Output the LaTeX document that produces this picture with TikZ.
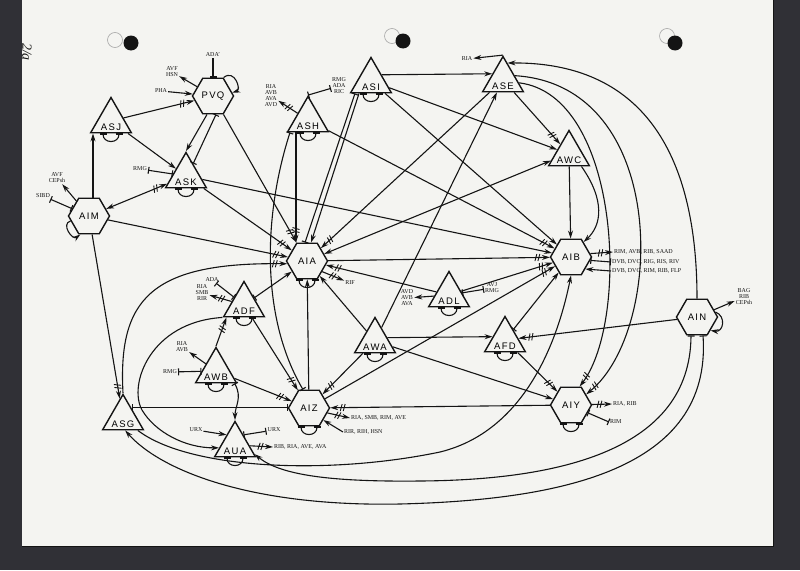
\documentclass[tikz,border=0pt]{standalone}
\usepackage{fontspec}
\setmainfont{Liberation Serif}
\newfontfamily\cellfont[LetterSpace=14]{Liberation Sans}
\usetikzlibrary{shapes.geometric,arrows.meta,decorations.markings}

\definecolor{paper}{RGB}{244,244,241}
\definecolor{board}{RGB}{48,48,54}
\definecolor{ink}{RGB}{20,20,20}

\tikzset{
	hexa/.style={draw=ink, fill=paper, line width=1.4pt, regular polygon, regular polygon sides=6,
		minimum size=41pt, inner sep=0pt, font=\cellfont\fontsize{9.5}{10}\selectfont},
	tri/.style={draw=ink, fill=paper, line width=1.4pt, regular polygon, regular polygon sides=3,
		minimum size=47pt, inner sep=0pt, label={[nm]south:#1}},
	nm/.style={anchor=south, inner sep=2.6pt, font=\cellfont\fontsize{9.5}{10}\selectfont},
	tag/.style={font=\fontsize{6}{6}\selectfont, align=center, inner sep=1pt, text=ink},
	syn/.style={draw=ink, line width=1.1pt, -{Stealth[length=8pt,width=5pt]}},
	dsyn/.style={syn, {Stealth[length=8pt,width=5pt]}-{Stealth[length=8pt,width=5pt]}},
	msyn/.style={syn, postaction={decorate}, decoration={markings,
		mark=at position -11pt with {\draw[-, line width=0.9pt] (-1pt,-3.5pt) -- (1pt,3.5pt);},
		mark=at position -14pt with {\draw[-, line width=0.9pt] (-1pt,-3.5pt) -- (1pt,3.5pt);}}},
	bsyn/.style={msyn, {Stealth[length=8pt,width=5pt]}-{Stealth[length=8pt,width=5pt]}},
	gap/.style={draw=ink, line width=1.1pt, {Bar[width=7pt]}-{Bar[width=7pt]}},
	inh/.style={draw=ink, line width=1.1pt, -{Bar[width=7pt]}},
	bsy/.style={draw=ink, line width=1.1pt, {Bar[width=7pt]}-{Stealth[length=8pt,width=5pt]}},
}

\begin{document}
\begin{tikzpicture}[x=1pt, y=-1pt]
	\useasboundingbox (0,0) rectangle (800,570);
	\fill[board] (0,0) rectangle (800,570);
	\fill[paper] (22,0) rectangle (773,546);
	\draw[ink, line width=1pt] (22,546) -- (773,546) -- (773,0);

	\foreach \hx/\hy/\fx/\fy in {115/40/131/43, 392/36/403/41, 667/36/675/43}
	{
		\draw[gray!70, line width=0.6pt] (\hx,\hy) circle[radius=7.5pt];
		\fill[ink] (\fx,\fy) circle[radius=7.5pt];
	}
	\node[rotate=-90, font=\itshape\fontsize{14}{14}\selectfont, text=ink] (sheet) at (27,52) {2/a};

	\node[hexa] (PVQ) at (213,96) {PVQ};
	\node[hexa] (AIM) at (89,216) {AIM};
	\node[hexa] (AIA) at (307,261) {AIA};
	\node[hexa] (AIB) at (571,257) {AIB};
	\node[hexa] (AIZ) at (309,408) {AIZ};
	\node[hexa] (AIY) at (571,405) {AIY};
	\node[hexa] (AIN) at (697,317) {AIN};

	\node[tri=ASJ] (ASJ) at (111,121) {};
	\node[tri=ASK] (ASK) at (186,176) {};
	\node[tri=ASH] (ASH) at (308,120) {};
	\node[tri=ASI] (ASI) at (371,81) {};
	\node[tri=ASE] (ASE) at (503,80) {};
	\node[tri=AWC] (AWC) at (569,154) {};
	\node[tri=ADL] (ADL) at (449,295) {};
	\node[tri=AWA] (AWA) at (375,341) {};
	\node[tri=AFD] (AFD) at (505,340) {};
	\node[tri=ADF] (ADF) at (244,305) {};
	\node[tri=AWB] (AWB) at (216,371) {};
	\node[tri=ASG] (ASG) at (123,418) {};
	\node[tri=AUA] (AUA) at (235,445) {};

	\node[tag] (ada) at (213,55) {ADA'};
	\node[tag] (avfhsn) at (172,72) {AVF\\HSN};
	\node[tag] (pha) at (161,91) {PHA};
	\node[tag] (rmgk) at (140,169) {RMG};
	\node[tag] (avfcep) at (57,178) {AVF\\CEPsh};
	\node[tag] (sibd) at (43,196) {SIBD};
	\node[tag] (riaavd) at (271,96) {RIA\\AVB\\AVA\\AVD};
	\node[tag] (rmgric) at (339,86) {RMG\\ADA\\RIC};
	\node[tag] (riae) at (467,59) {RIA};
	\node[tag, anchor=west] (rimavb) at (613,252) {RIM, AVB, RIB, SAAD};
	\node[tag, anchor=west] (dvbriv) at (611,262) {DVB, DVC, RIG, RIS, RIV};
	\node[tag, anchor=west] (dvbflp) at (611,271) {DVB, DVC, RIM, RIB, FLP};
	\node[tag] (bag) at (744,297) {BAG\\RIB\\CEPsh};
	\node[tag] (rif) at (350,283) {RIF};
	\node[tag] (avdava) at (407,298) {AVD\\AVB\\AVA};
	\node[tag] (avjrmg) at (492,288) {AVJ\\RMG};
	\node[tag] (adaf) at (212,280) {ADA};
	\node[tag] (riarir) at (202,293) {RIA\\SMB\\RIR};
	\node[tag] (riaavb) at (182,347) {RIA\\AVB};
	\node[tag] (rmgb) at (170,372) {RMG};
	\node[tag] (urxin) at (196,430) {URX};
	\node[tag] (urxgap) at (274,430) {URX};
	\node[tag, anchor=west] (ribava) at (273,447) {RIB, RIA, AVE, AVA};
	\node[tag, anchor=west] (riaave) at (350,418) {RIA, SMB, RIM, AVE};
	\node[tag, anchor=west] (rirhsn) at (343,432) {RIR, RIH, HSN};
	\node[tag, anchor=west] (riarib) at (612,404) {RIA, RIB};
	\node[tag, anchor=west] (rimy) at (609,422) {RIM};

	\coordinate (aimtop) at ([xshift=4pt]AIM.north);
	\coordinate (ashleft) at ([xshift=-12pt]ASH.south);

	\foreach \n in {ASJ,ASK,ASH,ASI,ADL,AWA,AFD,ADF,AWB,AUA,AIA,AIZ,AIY}
		\draw
			[gap] ([xshift=-8pt]\n.south) .. controls +(0,10.5) and +(0,10.5) .. ([xshift=8pt]\n.south);

	\draw
		[syn] (PVQ.60) .. controls +(11,-9) and +(9,-3) .. (PVQ.10);
	\draw
		[syn] (AIM.195) .. controls +(-10,3) and +(-8,6) .. (AIM.-115);
	\draw
		[syn] (AIN.15) .. controls +(11,4) and +(13,2) .. (AIN.-45);

	\draw
		[inh] (ada) -- (PVQ);
	\draw
		[syn] (PVQ) -- (avfhsn);
	\draw
		[syn] (pha) -- (PVQ);
	\draw
		[msyn] (ASJ) -- (PVQ);
	\draw
		[syn] (ASJ) -- (ASK);
	\draw
		[syn] ([xshift=-6pt]PVQ.south) -- (ASK.corner 1);
	\draw
		[gap] ([xshift=3pt]PVQ.south) -- (ASK.60);
	\draw
		[msyn] (PVQ) -- (AIA);

	\draw
		[syn] (aimtop) -- (aimtop |- ASJ.south);
	\draw
		[bsyn] (AIM) -- (ASK);
	\draw
		[gap] (rmgk) -- (ASK);
	\draw
		[gap] (sibd) -- (AIM);
	\draw
		[syn] (AIM) -- (avfcep);
	\draw
		[msyn] (AIM) -- (AIA);
	\draw
		[msyn] (AIM) -- (ASG);
	\draw
		[syn] (ASK) -- (AIB);
	\draw
		[msyn] (ASK) -- (AIA);

	\draw
		[msyn] (ashleft) -- (ashleft |- AIA.north);
	\draw
		[msyn] (ASH) -- (AIB);
	\draw
		[msyn] (ASH) -- (riaavd);
	\draw
		[gap] (ASH.corner 1) -- (rmgric);
	\draw
		[gap] ([xshift=-18pt]ASH.south) .. controls (262,220) and (262,320) .. ([xshift=-6pt]AIZ.north);

	\draw
		[syn] (ASI.30) -- (ASE.150);
	\draw
		[syn] (ASI) -- (AWC);
	\draw
		[syn] (ASI) -- (AIB);
	\draw
		[gap] ([xshift=-16pt]ASI.south) -- ([xshift=-2pt]AIA.north);
	\draw
		[syn] ([xshift=-12pt]ASI.south) -- ([xshift=4pt]AIA.north);

	\draw
		[syn] (ASE.corner 1) -- (riae);
	\draw
		[msyn] (ASE) -- (AWC);
	\draw
		[msyn] (ASE) -- (AIA);
	\draw
		[syn] (AWA) -- (ASE);
	\draw
		[syn] (AIN.north) .. controls (697,150) and (640,62) .. (ASE.75);
	\draw
		[msyn] (ASE.20) .. controls (670,85) and (665,330) .. (AIY.35);
	\draw
		[msyn] (ASE.-10) .. controls (620,95) and (630,320) .. (AIY.65);

	\draw
		[dsyn] (AIA) -- (AWC.-160);
	\draw
		[syn] (AWC) -- (AIB);
	\draw
		[syn] (AWC.-45) .. controls (605,200) and (602,225) .. (AIB.50);

	\draw
		[msyn] (AIA) -- (AIB);
	\draw
		[msyn] (ADL) -- (AIA.-12);
	\draw
		[msyn] (ADL) -- (AIB);
	\draw
		[syn] (ADL) -- (avdava);
	\draw
		[gap] (ADL) -- (avjrmg);
	\draw
		[msyn] (AIA.-35) -- (rif);
	\draw
		[bsy] (ADF) -- (AIA);
	\draw
		[syn] (AWA) -- (AIA);
	\draw
		[syn] (AIZ) -- (AIA);
	\draw
		[msyn] (ASG.corner 1) .. controls (118,300) and (150,262) .. (AIA.188);

	\draw
		[syn] (ADF.corner 2) .. controls (150,322) and (128,385) .. (142,410)
		.. controls (155,432) and (185,448) .. (AUA.190);
	\draw
		[msyn] (ADF) -- (riarir);
	\draw
		[gap] (adaf) -- (ADF);
	\draw
		[msyn] (ADF) -- (AIZ);

	\draw
		[msyn] (AWB.corner 1) -- ([xshift=4pt]ADF.corner 2);
	\draw
		[syn] (AWB) -- (riaavb);
	\draw
		[gap] (rmgb) -- (AWB);
	\draw
		[msyn] (AWB) -- (AIZ);
	\draw
		[bsy] ([xshift=-3pt]AWB.corner 3) .. controls +(8,14) and +(0,-14) .. (AUA.corner 1);

	\draw
		[syn] (urxin) -- (AUA.130);
	\draw
		[gap] (AUA.50) -- (urxgap);
	\draw
		[msyn] (AUA) -- (ribava.west);

	\draw
		[gap] (ASG.50) -- (ASG.50 -| AIZ.west);
	\draw
		[msyn] (AIY) -- (AIZ);
	\draw
		[msyn] (AIZ.-15) -- (riaave.west);
	\draw
		[syn] (rirhsn.west) -- (AIZ.-40);
	\draw
		[msyn] (AWA) -- (AIZ);
	\draw
		[msyn] (AIZ) -- (AIB);

	\draw
		[syn] (AWA.15) -- (AFD.165);
	\draw
		[syn] (AWA) -- (AIY);
	\draw
		[msyn] (AFD) -- (AIY);
	\draw
		[msyn] (AIN) -- (AFD);
	\draw
		[bsy] (AFD) -- (AIB);
	\draw
		[syn] (AIN) -- (bag);

	\draw
		[bsy] ([xshift=-6pt]AIN.south) .. controls (690,450) and (560,480) .. (420,481)
		.. controls (330,482) and (280,475) .. (AUA.-25);
	\draw
		[bsy] ([xshift=6pt]AIN.south) .. controls (712,470) and (560,500) .. (400,504)
		.. controls (250,507) and (160,470) .. (ASG.-80);
	\draw
		[syn] (ASG.-40) .. controls (190,470) and (330,475) .. (440,452)
		.. controls (530,430) and (560,330) .. (AIB.south);

	\draw
		[msyn] (AIB.10) -- (rimavb.west);
	\draw
		[gap] (AIB.-10) -- (dvbriv.west);
	\draw
		[syn] (dvbflp.west) -- (AIB.-40);
	\draw
		[msyn] (AIY) -- (riarib.west);
	\draw
		[gap] (AIY.-25) -- (rimy.west);
\end{tikzpicture}
\end{document}
